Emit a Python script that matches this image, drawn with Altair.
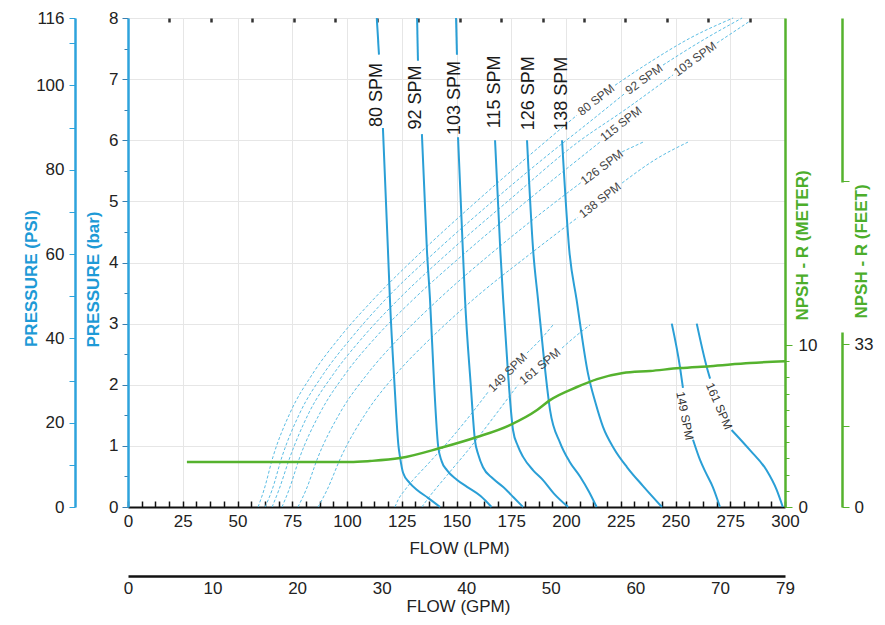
import altair as alt
import pandas as pd

FONT = "Liberation Sans"
BLUE = "#2a9fd6"
AXIS_BLUE = "#2ea3dc"
DASH_BLUE = "#5bbde4"
GREEN = "#55b22e"
TITLE_BLUE = "#1e9ad6"
TITLE_GREEN = "#4cae2b"

# ---------- solid pump-speed curves: flow (LPM) vs pressure (bar); seg splits around labels ----------
s80_lpm = [113.6, 114.6, 116.4, 118.7, 119.6, 121.7, 123.5, 124.2, 125.6, 128.5, 132.0, 137.0, 142.5]
s80_bar = [8.0, 7.4, 6.2, 4.2, 3.4, 2.0, 1.0, 0.82, 0.56, 0.40, 0.28, 0.15, 0.0]
s80_seg = [0, 0, 1, 1, 1, 1, 1, 1, 1, 1, 1, 1, 1]

s92_lpm = [132.0, 132.4, 134.2, 136.5, 137.9, 139.8, 141.6, 143.2, 145.7, 150.0, 154.8, 161.0, 166.0]
s92_bar = [8.0, 7.3, 6.1, 4.2, 3.4, 2.0, 1.0, 0.75, 0.6, 0.45, 0.33, 0.18, 0.0]
s92_seg = [0, 0, 1, 1, 1, 1, 1, 1, 1, 1, 1, 1, 1]

s103_lpm = [149.8, 150.2, 150.7, 152.9, 153.9, 156.5, 158.4, 160.0, 162.1, 166.5, 171.2, 176.0, 180.4]
s103_bar = [8.0, 7.4, 6.05, 4.2, 3.4, 2.0, 1.1, 0.85, 0.65, 0.47, 0.33, 0.16, 0.0]
s103_seg = [0, 0, 1, 1, 1, 1, 1, 1, 1, 1, 1, 1, 1]

s115_lpm = [167.6, 170.0, 171.3, 173.5, 175.8, 178.0, 180.4, 185.0, 189.5, 194.5, 201.0]
s115_bar = [6.0, 4.2, 3.4, 2.2, 1.26, 1.0, 0.82, 0.6, 0.44, 0.22, 0.0]
s115_seg = [0] * 11

s126_lpm = [182.2, 185.0, 187.2, 190.0, 192.7, 197.3, 201.5, 206.4, 210.5, 214.0]
s126_bar = [6.0, 4.2, 3.4, 2.4, 1.59, 1.05, 0.75, 0.5, 0.25, 0.0]
s126_seg = [0] * 10

s138_lpm = [198.2, 201.5, 204.8, 210.0, 213.5, 216.9, 222.0, 227.9, 235.0, 243.8]
s138_bar = [6.0, 4.2, 3.4, 2.19, 1.7, 1.31, 0.95, 0.65, 0.35, 0.0]
s138_seg = [0] * 10

s149_lpm = [248.3, 252.0, 253.4, 258.0, 261.2, 264.0, 267.0, 270.3]
s149_bar = [3.0, 2.3, 1.95, 1.1, 0.77, 0.55, 0.33, 0.0]
s149_seg = [0, 0, 0, 1, 1, 1, 1, 1]

s161_lpm = [259.7, 264.2, 265.8, 275.6, 284.0, 291.6, 296.2, 299.0]
s161_bar = [3.0, 2.3, 2.1, 1.26, 0.93, 0.6, 0.28, 0.0]
s161_seg = [0, 0, 0, 1, 1, 1, 1, 1]

# ---------- dashed curves ----------
d80_lpm = [59.4, 62.1, 66.2, 74.0, 84.5, 96.8, 111.9, 134.7, 159.8, 190.4, 205.0, 222.4, 238.4, 256.6, 276.3]
d80_bar = [0.0, 0.28, 0.82, 1.54, 2.19, 2.78, 3.39, 4.2, 5.02, 5.97, 6.41, 6.9, 7.28, 7.67, 8.0]
d80_seg = [0, 0, 0, 0, 0, 0, 0, 0, 0, 0, 0, 1, 1, 1, 1]

d92_lpm = [62.6, 65.8, 70.3, 78.5, 89.5, 102.3, 117.4, 141.1, 167.1, 199.1, 205.5, 227.0, 244.3, 261.2, 280.4]
d92_bar = [0.0, 0.28, 0.82, 1.54, 2.19, 2.78, 3.39, 4.2, 5.02, 5.97, 6.15, 6.77, 7.23, 7.61, 8.0]
d92_seg = [0, 0, 0, 0, 0, 0, 0, 0, 0, 0, 0, 0, 1, 1, 1]

d103_lpm = [65.8, 68.9, 74.0, 82.6, 94.1, 107.3, 123.3, 147.5, 174.0, 205.5, 227.0, 248.9, 268.9, 284.0]
d103_bar = [0.0, 0.28, 0.82, 1.54, 2.19, 2.78, 3.39, 4.2, 5.02, 5.97, 6.5, 7.07, 7.59, 7.95]
d103_seg = [0, 0, 0, 0, 0, 0, 0, 0, 0, 0, 0, 0, 1, 1]

d115_lpm = [70.3, 73.5, 78.5, 87.7, 99.5, 113.2, 130.1, 155.3, 182.6, 215.5]
d115_bar = [0.0, 0.28, 0.82, 1.54, 2.19, 2.78, 3.39, 4.2, 5.02, 5.97]
d115_seg = [0] * 10

d126_lpm = [77.6, 81.3, 86.8, 96.8, 109.6, 124.2, 141.6, 167.6, 196.3, 207.3, 225.6, 235.2]
d126_bar = [0.0, 0.28, 0.82, 1.54, 2.19, 2.78, 3.39, 4.2, 5.02, 5.32, 5.81, 5.97]
d126_seg = [0, 0, 0, 0, 0, 0, 0, 0, 0, 0, 1, 1]

d138_lpm = [86.8, 90.9, 97.3, 108.7, 122.8, 138.8, 157.5, 185.8, 205.5, 225.6, 240.6, 255.7]
d138_bar = [0.0, 0.28, 0.82, 1.54, 2.19, 2.78, 3.39, 4.2, 4.74, 5.3, 5.68, 5.97]
d138_seg = [0, 0, 0, 0, 0, 0, 0, 0, 0, 1, 1, 1]

d149_lpm = [121.9, 123.3, 126.5, 137.9, 147.0, 156.2, 164.4, 182.2, 188.1, 194.1]
d149_bar = [0.0, 0.115, 0.28, 0.74, 1.1, 1.5, 1.88, 2.52, 2.73, 2.98]
d149_seg = [0, 0, 0, 0, 0, 0, 0, 1, 1, 1]

d161_lpm = [134.2, 136.5, 145.7, 156.2, 167.6, 178.1, 198.2, 204.6, 211.0]
d161_bar = [0.0, 0.115, 0.52, 0.97, 1.5, 2.0, 2.6, 2.8, 2.98]
d161_seg = [0, 0, 0, 0, 0, 0, 1, 1, 1]

# ---------- NPSH-R curve (meters) ----------
npsh_lpm = [26.9, 101.4, 110.5, 124.2, 142.5, 159.4, 174.4, 186.8, 192.7, 205.0, 214.2, 226.0, 238.4, 252.0, 265.8, 284.0, 300.0]
npsh_m = [2.78, 2.78, 2.84, 3.02, 3.64, 4.32, 5.06, 5.99, 6.6, 7.41, 7.9, 8.27, 8.4, 8.58, 8.7, 8.89, 9.0]

# ---------- labels ----------
vlab_text = ["80 SPM", "92 SPM", "103 SPM", "115 SPM", "126 SPM", "138 SPM"]
vlab_lpm = [113.9, 131.7, 149.5, 167.8, 183.3, 198.4]
vlab_bar = [6.74, 6.70, 6.69, 6.79, 6.77, 6.76]

dlab_text = ["80 SPM", "92 SPM", "103 SPM", "115 SPM", "126 SPM", "138 SPM", "149 SPM", "161 SPM"]
dlab_lpm = [213.7, 235.6, 258.9, 225.1, 216.4, 215.5, 173.3, 188.1]
dlab_bar = [6.66, 7.0, 7.33, 6.27, 5.56, 5.02, 2.2, 2.3]
dlab_angle = [322, 324, 324, 322, 323, 322, 315, 320]

slab_text = ["149 SPM", "161 SPM"]
slab_lpm = [254.3, 269.9]
slab_bar = [1.49, 1.65]
slab_angle = [79, 67]

# ---------- axis ticks ----------
bar_ticks = [0, 0.5, 1, 1.5, 2, 2.5, 3, 3.5, 4, 4.5, 5, 5.5, 6, 6.5, 7, 7.5, 8]
psi_ticks = [0, 10, 20, 30, 40, 50, 60, 70, 80, 90, 100, 110, 116]
lpm_labels = [0, 25, 50, 75, 100, 125, 150, 175, 200, 225, 250, 275, 300]
lpm_minor = [i * 6.25 for i in range(49)]
gpm_labels = [0, 10, 20, 30, 40, 50, 60, 70, 77.7]
gpm_dots = [5, 10, 15, 20, 25, 30, 35, 40, 45, 50, 55, 60, 65, 70, 75]
meter_ticks = [0, 1, 2, 3, 4, 5, 6, 7, 8, 9, 10]
feet_ticks = [0, 16.5, 33, 66]

W, H = 657, 489
X = alt.Scale(domain=[0, 300], nice=False, zero=False)
Y = alt.Scale(domain=[0, 8], nice=False, zero=False)


def frame(name, lpm, bar, seg):
    return pd.DataFrame({"lpm": lpm, "bar": bar, "key": [f"{name}-{s}" for s in seg]})


solid = pd.concat([
    frame("80", s80_lpm, s80_bar, s80_seg), frame("92", s92_lpm, s92_bar, s92_seg),
    frame("103", s103_lpm, s103_bar, s103_seg), frame("115", s115_lpm, s115_bar, s115_seg),
    frame("126", s126_lpm, s126_bar, s126_seg), frame("138", s138_lpm, s138_bar, s138_seg),
    frame("149", s149_lpm, s149_bar, s149_seg), frame("161", s161_lpm, s161_bar, s161_seg),
])
dashed = pd.concat([
    frame("80", d80_lpm, d80_bar, d80_seg), frame("92", d92_lpm, d92_bar, d92_seg),
    frame("103", d103_lpm, d103_bar, d103_seg), frame("115", d115_lpm, d115_bar, d115_seg),
    frame("126", d126_lpm, d126_bar, d126_seg), frame("138", d138_lpm, d138_bar, d138_seg),
    frame("149", d149_lpm, d149_bar, d149_seg), frame("161", d161_lpm, d161_bar, d161_seg),
])
npsh = pd.DataFrame({"lpm": npsh_lpm, "m": npsh_m})

lab_common = dict(labelFont=FONT, labelFontSize=17, labelColor="#222", titleFont=FONT,
                  titleFontSize=17, titleFontWeight="bold", titleAngle=270,
                  titleAlign="center", titleBaseline="middle")

dashed_layer = alt.Chart(dashed).mark_line(
    color=DASH_BLUE, strokeWidth=1, strokeDash=[3, 2], interpolate="monotone"
).encode(
    x=alt.X("lpm:Q", scale=X, axis=None),
    y=alt.Y("bar:Q", scale=Y, axis=None),
    detail="key:N",
)

solid_layer = alt.Chart(solid).mark_line(
    color=BLUE, strokeWidth=2, interpolate="monotone"
).encode(
    x=alt.X("lpm:Q", scale=X, axis=alt.Axis(
        values=lpm_labels, ticks=False, tickSize=0, grid=True, gridColor="#e6e6e6",
        domainColor="#111", domainWidth=2, labelFont=FONT, labelFontSize=17,
        labelColor="#222", labelPadding=6, labelFlush=False, title="FLOW (LPM)",
        titleFont=FONT, titleFontSize=17, titleFontWeight="normal", titleColor="#222",
        titleX=331, titleY=41, titleBaseline="middle")),
    y=alt.Y("bar:Q", scale=Y, axis=alt.Axis(
        values=bar_ticks, labelExpr="datum.value % 1 === 0 ? '' + datum.value : ''",
        grid=True, gridColor="#e6e6e6",
        gridOpacity={"condition": {"test": "datum.value % 1 === 0", "value": 1}, "value": 0},
        tickSize={"condition": {"test": "datum.value % 1 === 0", "value": 6}, "value": 4},
        tickColor="#3a7fb0", domainColor=AXIS_BLUE, domainWidth=2.5, labelPadding=4,
        labelFlush=False, title="PRESSURE (bar)", titleColor=TITLE_BLUE,
        titleX=-35, titleY=261, **lab_common)),
    detail="key:N",
)

npsh_layer = alt.Chart(npsh).mark_line(
    color=GREEN, strokeWidth=2.5, interpolate="monotone"
).encode(
    x=alt.X("lpm:Q", scale=X, axis=None),
    y=alt.Y("m:Q", scale=alt.Scale(domain=[0, 30.2], nice=False, zero=False), axis=alt.Axis(
        orient="right", values=meter_ticks,
        labelExpr="datum.value == 0 || datum.value == 10 ? datum.label : ''",
        tickSize={"condition": {"test": "datum.value % 10 === 0", "value": 7}, "value": 4},
        tickColor=GREEN, domainColor=GREEN, domainWidth=2.5, labelPadding=6,
        labelFlush=False, grid=False, title="NPSH - R (METER)", titleColor=TITLE_GREEN,
        titleX=17, titleY=227, **lab_common)),
)

feet_layer = alt.Chart(pd.DataFrame({"ft": feet_ticks})).mark_point(opacity=0).encode(
    y=alt.Y("ft:Q", scale=alt.Scale(domain=[0, 99.1], nice=False, zero=False), axis=alt.Axis(
        orient="right", offset=57, values=feet_ticks,
        labelExpr="datum.value == 0 || datum.value == 33 ? datum.label : ''",
        tickSize=7, tickColor=GREEN, domainColor=GREEN, domainWidth=2.5,
        domainDash=[175, 150, 200], labelPadding=5, labelFlush=False, grid=False,
        title="NPSH - R (FEET)", titleColor=TITLE_GREEN, titleX=19, titleY=233, **lab_common)),
)

psi_layer = alt.Chart(pd.DataFrame({"psi": psi_ticks})).mark_point(opacity=0).encode(
    y=alt.Y("psi:Q", scale=alt.Scale(domain=[0, 116], nice=False, zero=False), axis=alt.Axis(
        orient="left", offset=53, values=psi_ticks,
        labelExpr="datum.value % 20 === 0 || datum.value == 116 ? datum.label : ''",
        tickSize=6, tickColor=AXIS_BLUE, domainColor=AXIS_BLUE, domainWidth=2.5,
        labelPadding=5, labelFlush=False, grid=False, title="PRESSURE (PSI)",
        titleColor=TITLE_BLUE, titleX=-44, titleY=260, **lab_common)),
)

gpm_layer = alt.Chart(pd.DataFrame({"gpm": gpm_labels})).mark_point(opacity=0).encode(
    x=alt.X("gpm:Q", scale=alt.Scale(domain=[0, 77.7], nice=False, zero=False), axis=alt.Axis(
        orient="bottom", offset=69, values=gpm_labels,
        labelExpr="datum.value > 75 ? '79' : datum.label",
        ticks=False, tickSize=0, domainColor="#111", domainWidth=2.5, labelFont=FONT,
        labelFontSize=17, labelColor="#222", labelPadding=4, labelFlush=False, grid=False,
        title="FLOW (GPM)", titleFont=FONT, titleFontSize=17, titleFontWeight="normal",
        titleColor="#222", titleX=330, titleY=30, titleBaseline="middle")),
)

gpm_top_layer = alt.Chart(pd.DataFrame({"gpm": gpm_dots})).mark_point(opacity=0).encode(
    x=alt.X("gpm:Q", scale=alt.Scale(domain=[0, 79.25], nice=False, zero=False), axis=alt.Axis(
        orient="bottom", offset=-H, values=gpm_dots, labels=False, domain=False,
        tickSize=4, tickWidth=2.5, tickColor="#333", grid=False, title=None)),
)

lpm_minor_layer = alt.Chart(pd.DataFrame({"lpm": lpm_minor})).mark_point(opacity=0).encode(
    x=alt.X("lpm:Q", scale=X, axis=alt.Axis(
        orient="top", offset=-H, values=lpm_minor, labels=False, domain=False,
        tickSize=6, tickWidth=1.5, tickColor="#111", grid=False, title=None)),
)

vlab = alt.Chart(pd.DataFrame({"t": vlab_text, "lpm": vlab_lpm, "bar": vlab_bar})).mark_text(
    font=FONT, fontSize=18, color="#1a1a1a", angle=270, align="center", baseline="middle"
).encode(
    x=alt.X("lpm:Q", scale=X, axis=None), y=alt.Y("bar:Q", scale=Y, axis=None), text="t:N"
)

dlab = alt.Chart(pd.DataFrame({"t": dlab_text, "lpm": dlab_lpm, "bar": dlab_bar, "a": dlab_angle})).mark_text(
    font=FONT, fontSize=12, color="#444", align="center", baseline="middle"
).encode(
    x=alt.X("lpm:Q", scale=X, axis=None), y=alt.Y("bar:Q", scale=Y, axis=None), text="t:N",
    angle=alt.Angle("a:Q", scale=None),
)

slab = alt.Chart(pd.DataFrame({"t": slab_text, "lpm": slab_lpm, "bar": slab_bar, "a": slab_angle})).mark_text(
    font=FONT, fontSize=12, color="#333", align="center", baseline="middle"
).encode(
    x=alt.X("lpm:Q", scale=X, axis=None), y=alt.Y("bar:Q", scale=Y, axis=None), text="t:N",
    angle=alt.Angle("a:Q", scale=None),
)

chart = alt.layer(
    dashed_layer, solid_layer, npsh_layer, feet_layer, psi_layer, gpm_layer,
    gpm_top_layer, lpm_minor_layer, vlab, dlab, slab,
).resolve_scale(x="independent", y="independent").properties(
    width=W, height=H,
    padding={"left": 120, "top": 10, "right": 92, "bottom": 114},
    autosize=alt.AutoSizeParams(type="none"),
).configure(font=FONT).configure_view(stroke=None)

chart.save("out.html", embed_options={"renderer": "svg", "actions": False})
